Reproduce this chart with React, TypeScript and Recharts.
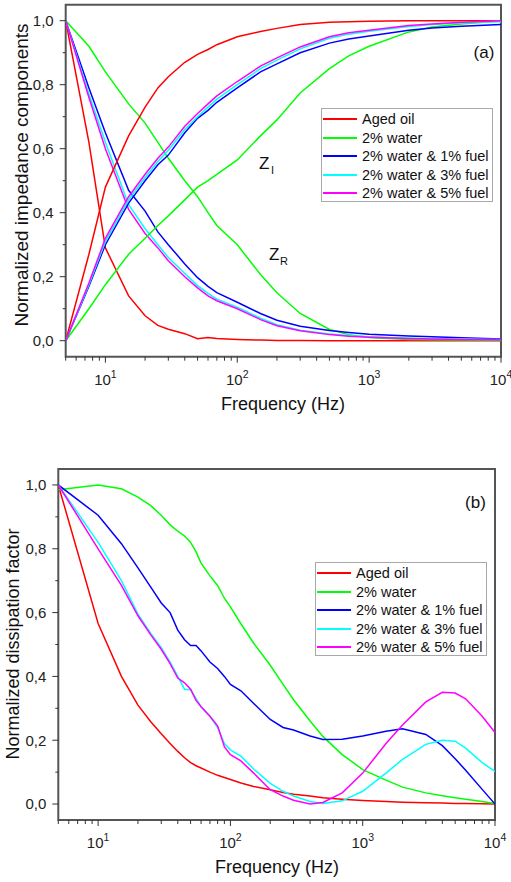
import { LineChart, Line, XAxis, YAxis, ReferenceArea } from "recharts"

const FONT = "'Liberation Sans', Arial, sans-serif"

// series meta
const seriesKeys = ["aged", "water", "fuel1", "fuel3", "fuel5"]
const seriesNames = ["Aged oil", "2% water", "2% water & 1% fuel", "2% water & 3% fuel", "2% water & 5% fuel"]
const seriesColors = ["#ff0000", "#00ff00", "#0000ff", "#00ffff", "#ff00ff"]

// (a) impedance components, frequency in Hz
const freqA = [5, 7.5, 10, 15, 20, 25, 30, 40, 50, 60, 70, 100, 150, 200, 300, 500, 700, 1000, 2000, 3000, 5000, 10000]

const agedR = [1, 0.62, 0.29, 0.14, 0.078, 0.048, 0.036, 0.022, 0.006, 0.01, 0.007, 0.004, 0.002, 0.001, 0.001, 0, 0, 0, 0, 0, 0, 0]
const waterR = [1, 0.92, 0.84, 0.74, 0.68, 0.62, 0.57, 0.5, 0.45, 0.4, 0.36, 0.3, 0.207, 0.15, 0.085, 0.035, 0.019, 0.01, 0.004, 0.003, 0.002, 0.001]
const fuel1R = [1, 0.79, 0.65, 0.47, 0.405, 0.34, 0.3, 0.24, 0.197, 0.17, 0.15, 0.12, 0.085, 0.064, 0.045, 0.032, 0.026, 0.02, 0.015, 0.012, 0.009, 0.005]
const fuel3R = [1, 0.77, 0.62, 0.425, 0.35, 0.3, 0.26, 0.21, 0.172, 0.148, 0.13, 0.105, 0.07, 0.05, 0.033, 0.021, 0.016, 0.012, 0.008, 0.006, 0.005, 0.004]
const fuel5R = [1, 0.76, 0.6, 0.41, 0.335, 0.29, 0.25, 0.2, 0.165, 0.14, 0.125, 0.1, 0.066, 0.047, 0.031, 0.019, 0.014, 0.011, 0.007, 0.005, 0.004, 0.003]

const agedI = [0, 0.27, 0.48, 0.64, 0.73, 0.79, 0.825, 0.87, 0.895, 0.91, 0.925, 0.95, 0.966, 0.976, 0.988, 0.995, 0.997, 0.998, 1, 1, 1, 1]
const waterI = [0, 0.1, 0.175, 0.27, 0.32, 0.36, 0.39, 0.44, 0.48, 0.5, 0.52, 0.565, 0.64, 0.69, 0.774, 0.85, 0.89, 0.92, 0.965, 0.98, 0.99, 1]
const fuel1I = [0, 0.17, 0.3, 0.43, 0.5, 0.55, 0.58, 0.65, 0.695, 0.72, 0.745, 0.79, 0.84, 0.865, 0.9, 0.93, 0.943, 0.952, 0.97, 0.977, 0.983, 0.988]
const fuel3I = [0, 0.175, 0.31, 0.44, 0.51, 0.56, 0.595, 0.66, 0.7, 0.73, 0.755, 0.8, 0.85, 0.877, 0.912, 0.945, 0.958, 0.967, 0.982, 0.988, 0.993, 0.997]
const fuel5I = [0, 0.18, 0.32, 0.45, 0.52, 0.57, 0.605, 0.67, 0.71, 0.74, 0.765, 0.81, 0.858, 0.884, 0.918, 0.95, 0.962, 0.97, 0.985, 0.99, 0.995, 1]

// (b) dissipation factor
const freqB = [5, 10, 15, 20, 25, 30, 35, 40, 45, 50, 55, 60, 70, 80, 90, 100, 120, 150, 200, 250, 300, 400, 500, 700, 1000, 1500, 2000, 3000, 4000, 5000, 6000, 8000, 10000]

const agedD = [1, 0.566, 0.4, 0.31, 0.258, 0.22, 0.19, 0.165, 0.145, 0.13, 0.12, 0.113, 0.1, 0.09, 0.083, 0.077, 0.066, 0.055, 0.045, 0.036, 0.031, 0.025, 0.02, 0.015, 0.011, 0.008, 0.006, 0.004, 0.003, 0.002, 0.002, 0.001, 0]
const waterD = [0.985, 1, 0.988, 0.962, 0.935, 0.905, 0.875, 0.855, 0.84, 0.82, 0.79, 0.755, 0.715, 0.685, 0.645, 0.618, 0.565, 0.504, 0.435, 0.375, 0.327, 0.26, 0.212, 0.155, 0.108, 0.075, 0.053, 0.035, 0.026, 0.02, 0.015, 0.008, 0.002]
const fuel1D = [1, 0.905, 0.816, 0.74, 0.68, 0.63, 0.6, 0.545, 0.515, 0.497, 0.497, 0.48, 0.445, 0.425, 0.4, 0.375, 0.355, 0.315, 0.265, 0.24, 0.232, 0.213, 0.202, 0.203, 0.213, 0.228, 0.236, 0.218, 0.183, 0.142, 0.106, 0.046, 0]
const fuel3D = [1, 0.82, 0.7, 0.595, 0.535, 0.49, 0.445, 0.4, 0.36, 0.358, 0.33, 0.305, 0.275, 0.24, 0.19, 0.17, 0.15, 0.11, 0.065, 0.04, 0.025, 0.008, 0.002, 0.01, 0.04, 0.097, 0.14, 0.187, 0.2, 0.197, 0.175, 0.13, 0.102]
const fuel5D = [1, 0.8, 0.685, 0.59, 0.53, 0.485, 0.44, 0.395, 0.38, 0.36, 0.325, 0.305, 0.275, 0.245, 0.18, 0.155, 0.135, 0.097, 0.045, 0.025, 0.012, 0, 0.005, 0.035, 0.097, 0.19, 0.248, 0.32, 0.35, 0.348, 0.33, 0.275, 0.224]

// axis ticks
const xTicks = [5, 6, 7, 8, 9, 10, 20, 30, 40, 50, 60, 70, 80, 90, 100, 200, 300, 400, 500, 600, 700, 800, 900, 1000, 2000, 3000, 4000, 5000, 6000, 7000, 8000, 9000, 10000]
const yTicks = [0, 0.1, 0.2, 0.3, 0.4, 0.5, 0.6, 0.7, 0.8, 0.9, 1]

const zR = [agedR, waterR, fuel1R, fuel3R, fuel5R]
const zI = [agedI, waterI, fuel1I, fuel3I, fuel5I]
const dissip = [agedD, waterD, fuel1D, fuel3D, fuel5D]

const dataA = freqA.map((f, i) => {
  const row: any = { f }
  seriesKeys.forEach((k, s) => {
    row[k + "R"] = zR[s][i]
    row[k + "I"] = zI[s][i]
  })
  return row
})

const dataB = freqB.map((f, i) => {
  const row: any = { f }
  seriesKeys.forEach((k, s) => {
    row[k] = dissip[s][i]
  })
  return row
})

function XTick(props: any) {
  const { x, y, payload } = props
  const exp = Math.log10(payload.value)
  const major = Math.abs(exp - Math.round(exp)) < 1e-6
  return (
    <g>
      <line x1={x} x2={x} y1={y} y2={y + (major ? 6 : 4)} stroke="#333" strokeWidth={1} />
      {major && (
        <text x={x} y={y + 28} textAnchor="middle" fontSize={15} fill="#222" fontFamily={FONT}>
          10<tspan dy={-7} fontSize={10.5}>{Math.round(exp)}</tspan>
        </text>
      )}
    </g>
  )
}

function YTick(props: any) {
  const { x, y, payload } = props
  const v = payload.value
  const major = Math.round(v * 10) % 2 === 0
  return (
    <g>
      <line x1={x - (major ? 6 : 3)} x2={x} y1={y} y2={y} stroke="#333" strokeWidth={1} />
      {major && (
        <text x={x - 12} y={y + 5.3} textAnchor="end" fontSize={15} fill="#222" fontFamily={FONT}>
          {v.toFixed(1).replace(".", ",")}
        </text>
      )}
    </g>
  )
}

function Txt({ x, y, size, children, center = false, rotate = false }: any) {
  let transform = center ? "translate(-50%, -50%)" : "translateY(-50%)"
  if (rotate) transform += " rotate(-90deg)"
  return (
    <div
      style={{
        position: "absolute", left: x, top: y, fontSize: size, lineHeight: 1,
        whiteSpace: "nowrap", color: "#111", transform, fontFamily: FONT,
      }}
    >
      {children}
    </div>
  )
}

function LegendBox({ left, top }: { left: number; top: number }) {
  return (
    <div
      style={{
        position: "absolute", left, top, width: 172, height: 94, boxSizing: "border-box",
        border: "1px solid #a8a8a8", background: "#fff", paddingTop: 1, fontFamily: FONT,
      }}
    >
      {seriesNames.map((name, i) => (
        <div key={name} style={{ display: "flex", alignItems: "center", height: 18.5, whiteSpace: "nowrap" }}>
          <div style={{ width: 34, height: 2, marginLeft: 1, flexShrink: 0, background: seriesColors[i] }} />
          <span style={{ marginLeft: 5, fontSize: 14.5, color: "#111", lineHeight: 1, whiteSpace: "nowrap" }}>{name}</span>
        </div>
      ))}
    </div>
  )
}

export default function App() {
  return (
    <div style={{ position: "absolute", left: 0, top: 0, width: 511, height: 882, background: "#fff" }}>
      {/* Panel (a) */}
      <div style={{ position: "absolute", left: 0, top: 0 }}>
        <LineChart width={511} height={420} data={dataA} margin={{ top: 4.7, right: 10, bottom: 33.3, left: 15.7 }}>
          <XAxis
            dataKey="f" type="number" scale="log" domain={[5, 10000]} ticks={xTicks} interval={0}
            tick={XTick} tickLine={false} axisLine={false} tickSize={0} tickMargin={0} height={30} allowDataOverflow
          />
          <YAxis
            type="number" domain={[-0.05, 1.05]} ticks={yTicks} interval={0}
            tick={YTick} tickLine={false} axisLine={false} tickSize={0} tickMargin={0} width={50} allowDataOverflow
          />
          {seriesKeys.map((k, s) => (
            <Line key={k + "R"} dataKey={k + "R"} type="linear" stroke={seriesColors[s]} strokeWidth={1.5} dot={false} isAnimationActive={false} />
          ))}
          {seriesKeys.map((k, s) => (
            <Line key={k + "I"} dataKey={k + "I"} type="linear" stroke={seriesColors[s]} strokeWidth={1.5} dot={false} isAnimationActive={false} />
          ))}
          <ReferenceArea x1={5} x2={10000} y1={-0.05} y2={1.05} fill="none" stroke="#555" strokeWidth={2} ifOverflow="visible" />
        </LineChart>
      </div>
      <Txt x={21} y={175} size={19} center rotate>Normalized impedance components</Txt>
      <Txt x={283} y={404} size={18} center>Frequency (Hz)</Txt>
      <Txt x={484} y={51.5} size={17} center>(a)</Txt>
      <Txt x={259} y={163} size={17}>Z</Txt>
      <Txt x={271} y={170} size={11}>I</Txt>
      <Txt x={269} y={253.5} size={17}>Z</Txt>
      <Txt x={280} y={261} size={11}>R</Txt>
      <LegendBox left={321} top={108} />

      {/* Panel (b) */}
      <div style={{ position: "absolute", left: 0, top: 440 }}>
        <LineChart width={511} height={442} data={dataB} margin={{ top: 29, right: 16, bottom: 32, left: 13.3 }}>
          <XAxis
            dataKey="f" type="number" scale="log" domain={[5, 10000]} ticks={xTicks} interval={0}
            tick={XTick} tickLine={false} axisLine={false} tickSize={0} tickMargin={0} height={30} allowDataOverflow
          />
          <YAxis
            type="number" domain={[-0.05, 1.05]} ticks={yTicks} interval={0}
            tick={YTick} tickLine={false} axisLine={false} tickSize={0} tickMargin={0} width={45} allowDataOverflow
          />
          {seriesKeys.map((k, s) => (
            <Line key={k} dataKey={k} type="linear" stroke={seriesColors[s]} strokeWidth={1.5} dot={false} isAnimationActive={false} />
          ))}
          <ReferenceArea x1={5} x2={10000} y1={-0.05} y2={1.05} fill="none" stroke="#555" strokeWidth={2} ifOverflow="visible" />
        </LineChart>
      </div>
      <Txt x={13} y={644} size={18} center rotate>Normalized dissipation factor</Txt>
      <Txt x={277} y={867} size={18} center>Frequency (Hz)</Txt>
      <Txt x={475.5} y={501.5} size={17} center>(b)</Txt>
      <LegendBox left={315} top={562} />
    </div>
  )
}
